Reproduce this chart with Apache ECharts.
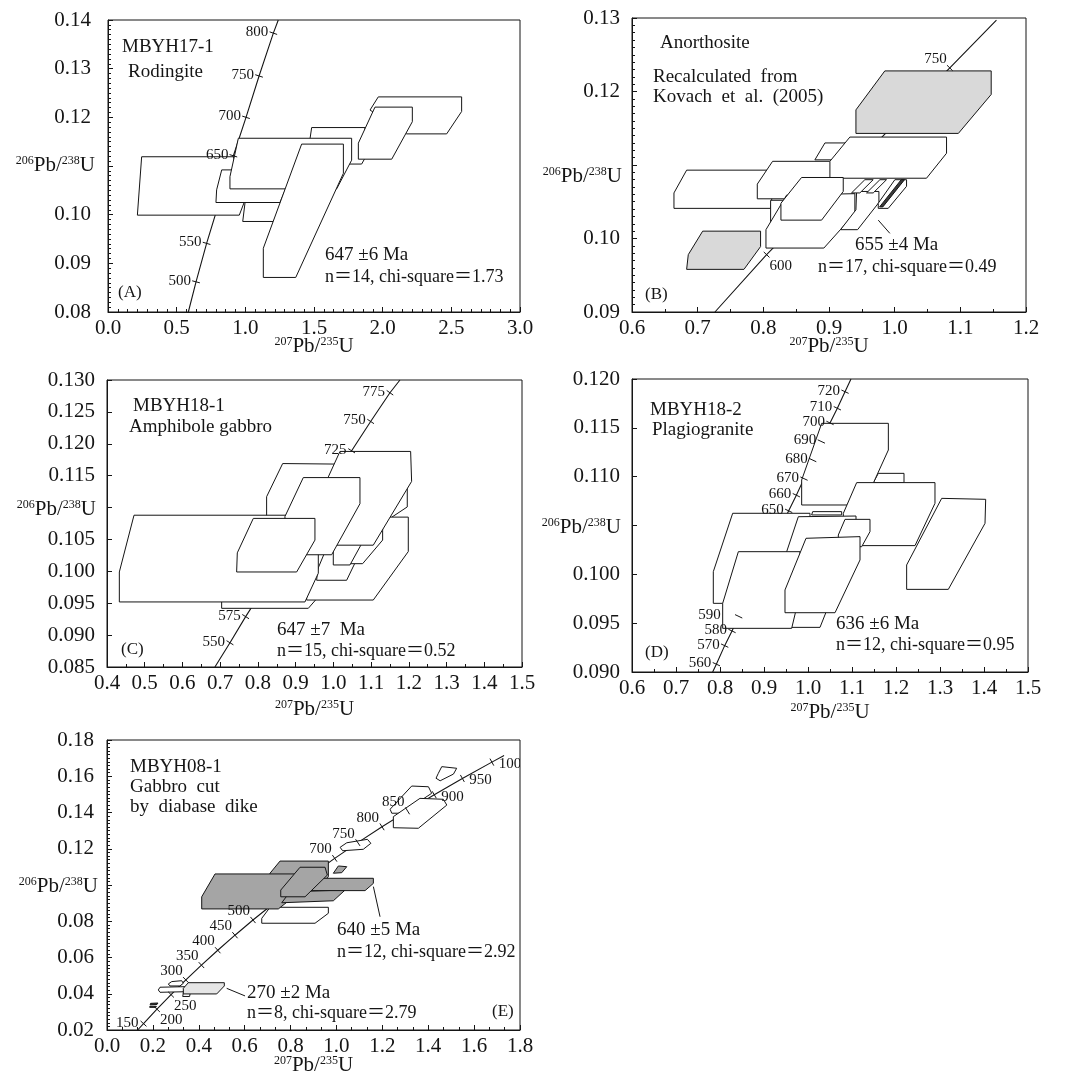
<!DOCTYPE html>
<html><head><meta charset="utf-8">
<script src="https://cdn.jsdelivr.net/npm/echarts@6/dist/echarts.min.js"></script>
<style>html,body{margin:0;padding:0;background:#fff}#c{width:1070px;height:1082px}</style>
</head><body><div id="c"></div>
<script>
// ===================== DATA =====================
// ---- Panel A ----
const xTickA = [0, 0.5, 1, 1.5, 2, 2.5, 3];
const xLblA = ['0.0','0.5','1.0','1.5','2.0','2.5','3.0'];
const yTickA = [0.08, 0.09, 0.10, 0.11, 0.12, 0.13, 0.14];
const yLblA = ['0.08','0.09','0.10','','0.12','0.13','0.14'];
const concA_age = [null, 500, 550, 650, 700, 750, 800, null];
const concA_x = [0.585, 0.641, 0.718, 0.913, 1.005, 1.100, 1.204, 1.240];
const concA_y = [0.080, 0.0862, 0.0941, 0.1121, 0.1200, 0.1285, 0.1373, 0.140];
const boxesA = [
  [[0.245,0.1119],[0.913,0.1119],[0.998,0.1030],[0.956,0.0999],[0.214,0.0999]],
  [[0.998,0.1025],[1.277,0.1025],[1.204,0.0986],[0.981,0.0986]],
  [[0.828,0.1092],[1.301,0.1092],[1.301,0.1058],[1.252,0.1025],[0.786,0.1025],[0.791,0.1051]],
  [[1.483,0.1179],[1.871,0.1179],[1.871,0.1116],[1.847,0.1104],[1.641,0.1104],[1.459,0.1133]],
  [[0.949,0.1157],[1.774,0.1157],[1.774,0.1112],[1.665,0.1053],[0.888,0.1053],[0.888,0.1078]],
  [[1.410,0.1145],[1.714,0.1145],[1.714,0.1085],[1.367,0.0871],[1.131,0.0871],[1.131,0.0931]],
  [[1.968,0.1242],[2.575,0.1242],[2.575,0.1212],[2.466,0.1166],[2.175,0.1166],[1.908,0.1215]],
  [[1.944,0.1221],[2.216,0.1221],[2.216,0.1191],[2.066,0.1114],[1.823,0.1114],[1.823,0.1147]]
];
const fillA = ['w','w','w','w','w','w','w','w'];
const leadA = [];

// ---- Panel B ----
const xTickB = [0.6, 0.7, 0.8, 0.9, 1.0, 1.1, 1.2];
const xLblB = ['0.6','0.7','0.8','0.9','1.0','1.1','1.2'];
const yTickB = [0.09, 0.10, 0.11, 0.12, 0.13];
const yLblB = ['0.09','0.10','','0.12','0.13'];
const concB_age = [null, 600, 750, null];
const concB_x = [0.7263, 0.805, 1.084, 1.155];
const concB_y = [0.090, 0.0978, 0.1232, 0.1297];
const boxesB = [
  [[0.6832,0.1093],[0.8151,0.1093],[0.8151,0.1071],[0.8111,0.1041],[0.6639,0.1041],[0.6639,0.1062]],
  [[0.8111,0.1052],[0.8354,0.1052],[0.8253,0.1022],[0.8111,0.1022]],
  [[0.8938,0.1130],[0.9293,0.1130],[0.9064,0.1107],[0.8785,0.1107]],
  [[0.8141,0.1105],[0.9024,0.1105],[0.9024,0.1084],[0.8811,0.1054],[0.7908,0.1054],[0.7908,0.1074]],
  [[0.8354,0.1059],[0.9394,0.1061],[0.9394,0.1034],[0.8922,0.0987],[0.8040,0.0987],[0.8040,0.1012]],
  [[0.9318,0.1138],[1.079,0.1138],[1.079,0.1116],[1.0485,0.1082],[0.9014,0.1082],[0.9014,0.1105]],
  [[0.942,0.1064],[0.976,0.1064],[0.976,0.1049],[0.9435,0.1012],[0.9176,0.1012],[0.941,0.1039]],
  [[0.9546,0.1080],[0.9673,0.1080],[0.947,0.1062],[0.9343,0.1062]],
  [[0.9775,0.1080],[0.9876,0.1080],[0.9673,0.1062],[0.9572,0.1062]],
  [[1.0003,0.1080],[1.0181,0.1080],[1.0181,0.1071],[0.9902,0.1041],[0.975,0.1041],[0.975,0.1048]],
  [[1.010,0.1080],[1.015,0.1080],[0.982,0.1043],[0.977,0.1043]],
  [[0.8582,0.1083],[0.9217,0.1083],[0.9217,0.1064],[0.8887,0.1025],[0.8268,0.1025],[0.8268,0.1048]],
  [[0.985,0.1228],[1.147,0.1228],[1.147,0.1196],[1.097,0.1143],[0.941,0.1143],[0.941,0.1175]],
  [[0.7076,0.1010],[0.7958,0.1010],[0.7958,0.0989],[0.7705,0.0958],[0.6832,0.0958],[0.6857,0.0978]]
];
const fillB = ['w','w','w','w','w','w','w','w','w','w','k','w','g','g'];
const leadB = [[0.975,0.1025,0.9927,0.1007]];

// ---- Panel C ----
const xTickC = [0.4,0.5,0.6,0.7,0.8,0.9,1.0,1.1,1.2,1.3,1.4,1.5];
const xLblC = ['0.4','0.5','0.6','0.7','0.8','0.9','1.0','1.1','1.2','1.3','1.4','1.5'];
const yTickC = [0.085,0.090,0.095,0.100,0.105,0.110,0.115,0.120,0.125,0.130];
const yLblC = ['0.085','0.090','0.095','0.100','0.105','','0.115','0.120','0.125','0.130'];
const concC_age = [null, 550, 575, 725, 750, 775, null];
const concC_x = [0.686, 0.726, 0.7675, 1.0484, 1.0988, 1.150, 1.1765];
const concC_y = [0.085, 0.0888, 0.0929, 0.1189, 0.1235, 0.1280, 0.130];
const boxesC = [
  [[0.7039,0.0963],[0.9645,0.0963],[0.9336,0.0942],[0.7039,0.0942]],
  [[1.1323,0.1159],[1.1959,0.1159],[1.1959,0.1101],[1.1500,0.1083],[1.0882,0.1083]],
  [[1.0528,0.1085],[1.1986,0.1085],[1.1986,0.1031],[1.1058,0.0955],[0.9292,0.0955],[0.9292,0.0997]],
  [[0.9645,0.1039],[1.0572,0.1039],[1.0572,0.1013],[1.0352,0.0986],[0.9557,0.0986]],
  [[1.0970,0.1086],[1.1306,0.1086],[1.1306,0.1049],[1.0776,0.1012],[1.0352,0.1012],[1.0352,0.1039]],
  [[1.0528,0.1104],[1.0952,0.1104],[1.0970,0.1067],[1.0440,0.1010],[0.9998,0.1010],[0.9998,0.1049]],
  [[0.8656,0.1169],[1.0352,0.1168],[1.0352,0.1112],[0.9512,0.0993],[0.8231,0.0993],[0.8231,0.1117]],
  [[1.0175,0.1188],[1.2048,0.1188],[1.2074,0.1141],[1.1058,0.1041],[0.9866,0.1041],[0.9866,0.1148]],
  [[0.4716,0.1088],[0.9601,0.1088],[0.9601,0.0997],[0.9247,0.0952],[0.4327,0.0952],[0.4327,0.0999]],
  [[0.9203,0.1147],[1.0705,0.1147],[1.0705,0.1106],[0.9954,0.1026],[0.8717,0.1026],[0.8717,0.1086]],
  [[0.7878,0.1083],[0.9512,0.1083],[0.9512,0.1049],[0.9027,0.0999],[0.7436,0.0999],[0.7454,0.1029]]
];
const fillC = ['w','w','w','w','w','w','w','w','w','w','w'];
const leadC = [];

// ---- Panel D ----
const xTickD = [0.6,0.7,0.8,0.9,1.0,1.1,1.2,1.3,1.4,1.5];
const xLblD = ['0.6','0.7','0.8','0.9','1.0','1.1','1.2','1.3','1.4','1.5'];
const yTickD = [0.090,0.095,0.100,0.105,0.110,0.115,0.120];
const yLblD = ['0.090','0.095','0.100','','0.110','0.115','0.120'];
const concD_age = [null, 560, 570, 580, 590, 650, 660, 670, 680, 690, 700, 710, 720, null];
const concD_x = [0.7833, 0.7917, 0.8106, 0.8273, 0.8424, 0.9561, 0.9735, 0.9909, 1.0106, 1.0303, 1.0500, 1.0667, 1.0841, 1.0977];
const concD_y = [0.0900, 0.0908, 0.0927, 0.0942, 0.0957, 0.1065, 0.1081, 0.1098, 0.1117, 0.1136, 0.1155, 0.1170, 0.1187, 0.1200];
const boxesD = [
  [[0.8288,0.10625],[1.0045,0.10625],[1.0045,0.10420],[0.9439,0.09703],[0.7848,0.09703],[0.7848,0.10027]],
  [[1.1598,0.11034],[1.2182,0.11034],[1.2182,0.10939],[1.1485,0.10939]],
  [[1.0311,0.11546],[1.1826,0.11546],[1.1826,0.11273],[1.1258,0.10710],[0.9856,0.10710],[0.9856,0.10966]],
  [[1.0106,0.10642],[1.0765,0.10642],[1.0765,0.10608],[1.0083,0.10608]],
  [[1.1106,0.10939],[1.2886,0.10939],[1.2886,0.10727],[1.2432,0.10294],[1.0803,0.10294],[1.0803,0.10625]],
  [[1.3038,0.10778],[1.4038,0.10768],[1.4023,0.10522],[1.3189,0.09846],[1.2242,0.09846],[1.2242,0.10096]],
  [[0.9780,0.10590],[1.1091,0.10597],[1.1091,0.10386],[1.0273,0.09457],[0.9515,0.09457],[0.9515,0.10232]],
  [[1.0841,0.10563],[1.1409,0.10563],[1.1409,0.10437],[1.1220,0.10283],[1.0689,0.10283],[1.0689,0.10403]],
  [[0.8417,0.10232],[0.9818,0.10232],[0.9818,0.09805],[0.9629,0.09447],[0.8061,0.09447],[0.8061,0.09703]],
  [[0.9955,0.10369],[1.1182,0.10386],[1.1182,0.10147],[1.0614,0.09607],[0.9477,0.09607],[0.9477,0.09840]]
];
const fillD = ['w','w','w','w','w','w','w','w','w','w'];
const leadD = [];

// ---- Panel E ----
const xTickE = [0,0.2,0.4,0.6,0.8,1.0,1.2,1.4,1.6,1.8];
const xLblE = ['0.0','0.2','0.4','0.6','0.8','1.0','1.2','1.4','1.6','1.8'];
const yTickE = [0.02,0.04,0.06,0.08,0.10,0.12,0.14,0.16,0.18];
const yLblE = ['0.02','0.04','0.06','0.08','','0.12','0.14','0.16','0.18'];
const concE_age = [null,150,200,250,300,350,400,450,500,null,null,null,700,750,800,850,900,950,1000,null];
const concE_x = [0.1337,0.1592,0.2177,0.2792,0.3437,0.4116,0.4828,0.5577,0.6362,0.7189,0.8057,0.8968,0.9923,1.0931,1.1987,1.3097,1.4263,1.5488,1.6774,1.7306];
const concE_y = [0.0200,0.0235,0.0315,0.0395,0.0476,0.0558,0.0640,0.0723,0.0807,0.0891,0.0975,0.1061,0.1147,0.1234,0.1321,0.1409,0.1498,0.1588,0.1678,0.1714];
const boxesE = [
  [[0.7105,0.0877],[0.9647,0.0877],[0.9647,0.0844],[0.9067,0.0789],[0.6744,0.0789],[0.6744,0.0816]],
  [[0.7541,0.1132],[0.9647,0.1132],[0.9647,0.1046],[0.9067,0.0954],[0.7105,0.0954],[0.7105,0.1065]],
  [[0.4708,0.1061],[0.8705,0.1061],[0.8705,0.0991],[0.7467,0.0868],[0.4128,0.0868],[0.4128,0.0935]],
  [[0.7977,0.0963],[1.0375,0.0972],[0.9865,0.0913],[0.7616,0.0902]],
  [[0.9429,0.1037],[1.1609,0.1037],[1.1609,0.1009],[1.1247,0.0969],[0.8849,0.0969],[0.9067,0.1009]],
  [[0.8413,0.1098],[0.9503,0.1098],[0.9603,0.1055],[0.8631,0.0935],[0.7572,0.0935],[0.7572,0.0972]],
  [[1.0083,0.1105],[1.0449,0.1101],[1.0231,0.1068],[0.9865,0.1065]],
  [[1.045,0.1233],[1.135,0.1252],[1.150,0.1230],[1.117,0.1197],[1.027,0.1189],[1.016,0.1208]],
  [[1.328,0.1546],[1.401,0.1542],[1.415,0.1506],[1.285,0.1396],[1.241,0.1396],[1.234,0.1418]],
  [[1.364,0.1478],[1.466,0.1473],[1.481,0.1441],[1.357,0.1313],[1.248,0.1316],[1.248,0.1377]],
  [[1.459,0.1653],[1.524,0.1644],[1.510,0.1612],[1.452,0.1575],[1.434,0.1589],[1.444,0.1616]],
  [[0.190,0.0347],[0.222,0.0349],[0.218,0.0341],[0.188,0.0339]],
  [[0.187,0.0331],[0.215,0.0331],[0.213,0.0325],[0.186,0.0325]],
  [[0.2310,0.0436],[0.3400,0.0439],[0.3326,0.0411],[0.2310,0.0408],[0.2237,0.0421]],
  [[0.2820,0.0467],[0.3256,0.0472],[0.3326,0.0458],[0.3182,0.0443],[0.2746,0.0443],[0.2672,0.0454]],
  [[0.335,0.0420],[0.365,0.0420],[0.360,0.0385],[0.330,0.0385]],
  [[0.3544,0.0461],[0.5113,0.0461],[0.5113,0.0443],[0.4782,0.0399],[0.3326,0.0399],[0.3326,0.0430]]
];
const fillE = ['w','m','m','m','m','m','m','w','w','w','w','k','k','w','w','w','l'];
const leadE = [[1.161,0.0991,1.190,0.0825],[0.5216,0.0430,0.6016,0.0388]];

// ===================== LAYOUT / STYLE =====================
const FAM = '"Liberation Serif", "Times New Roman", "Noto Sans CJK SC", serif';
const INK = '#151515';
const FILL = {w:'#ffffff', g:'#d9d9d9', m:'#a5a5a5', l:'#e6e6e6', k:'#3a3a3a'};
// label placement relative to concordia tick: [dx, dy, align]
const OFF = {L:[-5,-1,'right'], LL:[-18,-1,'right'], UL:[-3,-9,'right'], DR:[3,11,'left'], R:[7,2,'left']};
const sideA = ['', 'L','L','L','L','L','L',''];
const sideB = ['', 'DR','UL',''];
const sideC = ['', 'L','L','L','L','L',''];
const sideD = ['', 'L','L','L','LL','L','L','L','L','L','L','L','L',''];
const sideE = ['', 'L','DR','DR','UL','UL','UL','UL','UL','','','','UL','UL','UL','UL','R','R','R',''];

const grids = [
  {left:108, top:20, width:412, height:292},
  {left:632, top:18, width:394, height:294},
  {left:107, top:380, width:415, height:287},
  {left:632, top:379, width:396, height:293},
  {left:107, top:740, width:413, height:290}
];

// yPad: [top, bottom] padding used to nudge the y-axis title up/down
const panels = [
  {x:[0,3,0.5,xTickA,xLblA,7], y:[0.08,0.14,0.01,yTickA,yLblA,10], c:[concA_age,concA_x,concA_y,sideA], b:[boxesA,fillA], l:leadA, yGap:13, yMargin:17, xGap:24, yPad:[0,2]},
  {x:[0.6,1.2,0.1,xTickB,xLblB,2], y:[0.09,0.13,0.01,yTickB,yLblB,10], c:[concB_age,concB_x,concB_y,sideB], b:[boxesB,fillB], l:leadB, yGap:10, yMargin:12, xGap:24, yPad:[22,0]},
  {x:[0.4,1.5,0.1,xTickC,xLblC,2], y:[0.085,0.130,0.005,yTickC,yLblC,0], c:[concC_age,concC_x,concC_y,sideC], b:[boxesC,fillC], l:leadC, yGap:11, yMargin:12, xGap:32, yPad:[0,28]},
  {x:[0.6,1.5,0.1,xTickD,xLblD,2], y:[0.090,0.120,0.005,yTickD,yLblD,0], c:[concD_age,concD_x,concD_y,sideD], b:[boxesD,fillD], l:leadD, yGap:11, yMargin:12, xGap:30, yPad:[4,0]},
  {x:[0,1.8,0.2,xTickE,xLblE,3], y:[0.02,0.18,0.02,yTickE,yLblE,10], c:[concE_age,concE_x,concE_y,sideE], b:[boxesE,fillE], l:leadE, yGap:9, yMargin:13, xGap:25, yPad:[2,0]}
];

const notes = [
  ['MBYH17-1',122,47,19],['Rodingite',128,72,19],['(A)',118,293,17],
  ['647 ±6 Ma',325,255,19],['n＝14, chi-square＝1.73',325,277,18],
  ['Anorthosite',660,43,19],['Recalculated  from',653,77,19],['Kovach  et  al.  (2005)',653,97,19],
  ['655 ±4 Ma',855,245,19],['n＝17, chi-square＝0.49',818,267,18],['(B)',645,295,17],
  ['MBYH18-1',133,406,19],['Amphibole gabbro',129,427,19],['(C)',121,650,17],
  ['647 ±7  Ma',277,630,19],['n＝15, chi-square＝0.52',277,651,18],
  ['MBYH18-2',650,410,19],['Plagiogranite',652,430,19],['(D)',645,653,17],
  ['636 ±6 Ma',836,624,19],['n＝12, chi-square＝0.95',836,645,18],
  ['MBYH08-1',130,767,19],['Gabbro  cut',130,787,19],['by  diabase  dike',130,807,19],
  ['640 ±5 Ma',337,930,19],['n＝12, chi-square＝2.92',337,952,18],
  ['270 ±2 Ma',247,993,19],['n＝8, chi-square＝2.79',247,1013,18],['(E)',492,1012,17]
];

function lbl(v, ticks, labels) {
  for (let i = 0; i < ticks.length; i++) if (Math.abs(ticks[i] - v) < 1e-9) return labels[i];
  return '';
}
function nameStyle(pad) {
  return {
    fontFamily: FAM, fontSize: 21, color: INK, padding: pad ? [pad[0], 0, pad[1], 0] : 0,
    rich: { s: { fontFamily: FAM, fontSize: 12, color: INK, verticalAlign: 'top' } }
  };
}
function axisCommon(a) {
  return {
    type: 'value', min: a[0], max: a[1], interval: a[2],
    axisLine: { show: true, onZero: false, lineStyle: { color: INK, width: 1 } },
    axisTick: { show: true, inside: true, length: 5, lineStyle: { color: INK, width: 1 } },
    minorTick: { show: a[5] > 0, splitNumber: a[5] || 5, length: 3, lineStyle: { color: INK, width: 1 } },
    splitLine: { show: false }, minorSplitLine: { show: false },
    axisLabel: { fontFamily: FAM, fontSize: 21, color: INK, formatter: v => lbl(v, a[3], a[4]) }
  };
}

const xAxes = [], yAxes = [], series = [];
panels.forEach((p, gi) => {
  const xa = axisCommon(p.x);
  Object.assign(xa, { gridIndex: gi, name: '{s|207}Pb/{s|235}U', nameLocation: 'middle', nameGap: p.xGap, nameMoveOverlap: false, nameTextStyle: nameStyle(null) });
  xa.axisLabel.margin = 6;
  xAxes.push(xa);
  const ya = axisCommon(p.y);
  Object.assign(ya, { gridIndex: gi, name: '{s|206}Pb/{s|238}U', nameLocation: 'middle', nameRotate: 0, nameGap: p.yGap, nameMoveOverlap: false, nameTextStyle: nameStyle(p.yPad) });
  ya.axisLabel.margin = p.yMargin;
  yAxes.push(ya);

  const [ages, cx, cy, sides] = p.c;
  // concordia curve
  series.push({
    type: 'line', xAxisIndex: gi, yAxisIndex: gi, data: cx.map((x, i) => [x, cy[i]]),
    showSymbol: false, symbol: 'none', silent: true, z: 1, clip: true,
    lineStyle: { color: INK, width: 1.1 }
  });
  // error boxes
  const [boxes, fills] = p.b;
  series.push({
    type: 'custom', coordinateSystem: 'cartesian2d', xAxisIndex: gi, yAxisIndex: gi, clip: true, z: 3, silent: true,
    data: boxes.map((b, i) => [b[0][0], b[0][1], i]), encode: { x: 0, y: 1 },
    renderItem: (params, api) => {
      const i = api.value(2);
      return { type: 'polygon', shape: { points: boxes[i].map(pt => api.coord(pt)) },
        style: { fill: FILL[fills[i]], stroke: INK, lineWidth: 1 } };
    }
  });
  // leader lines
  if (p.l.length) series.push({
    type: 'custom', coordinateSystem: 'cartesian2d', xAxisIndex: gi, yAxisIndex: gi, clip: true, z: 4, silent: true,
    data: p.l.map(d => d.slice()), encode: { x: 0, y: 1 },
    renderItem: (params, api) => {
      const a = api.coord([api.value(0), api.value(1)]), b = api.coord([api.value(2), api.value(3)]);
      return { type: 'line', shape: { x1: a[0], y1: a[1], x2: b[0], y2: b[1] }, style: { stroke: INK, lineWidth: 1 } };
    }
  });
  // concordia age ticks + labels
  const tdata = [];
  ages.forEach((a, i) => { if (a !== null) tdata.push([cx[i], cy[i], i]); });
  series.push({
    type: 'custom', coordinateSystem: 'cartesian2d', xAxisIndex: gi, yAxisIndex: gi, clip: true, z: 5, silent: true,
    data: tdata, encode: { x: 0, y: 1 },
    renderItem: (params, api) => {
      const i = api.value(2), n = cx.length;
      const pt = api.coord([cx[i], cy[i]]);
      const a = api.coord([cx[Math.max(0, i - 1)], cy[Math.max(0, i - 1)]]);
      const b = api.coord([cx[Math.min(n - 1, i + 1)], cy[Math.min(n - 1, i + 1)]]);
      let dx = b[0] - a[0], dy = b[1] - a[1];
      const L = Math.hypot(dx, dy) || 1; dx /= L; dy /= L;
      const nx = -dy * 4, ny = dx * 4;
      const o = OFF[sides[i]] || OFF.L;
      return { type: 'group', children: [
        { type: 'line', shape: { x1: pt[0] - nx, y1: pt[1] - ny, x2: pt[0] + nx, y2: pt[1] + ny }, style: { stroke: INK, lineWidth: 1 } },
        { type: 'text', x: pt[0] + o[0], y: pt[1] + o[1],
          style: { text: String(ages[i]), font: '15px ' + FAM, fill: INK, align: o[2], verticalAlign: 'middle' } }
      ] };
    }
  });
});

const chart = echarts.init(document.getElementById('c'), null, { renderer: 'canvas' });
chart.setOption({
  animation: false,
  backgroundColor: '#ffffff',
  grid: grids.map(g => Object.assign({ show: true, borderColor: INK, borderWidth: 1, backgroundColor: 'transparent', containLabel: false, outerBoundsMode: 'none' }, g)),
  xAxis: xAxes, yAxis: yAxes, series,
  graphic: { elements: notes.map(n => ({
    type: 'text', x: n[1], y: n[2], z: 20, silent: true,
    style: { text: n[0], font: n[3] + 'px ' + FAM, fill: INK, verticalAlign: 'middle' }
  })) }
});
</script>
</body></html>
